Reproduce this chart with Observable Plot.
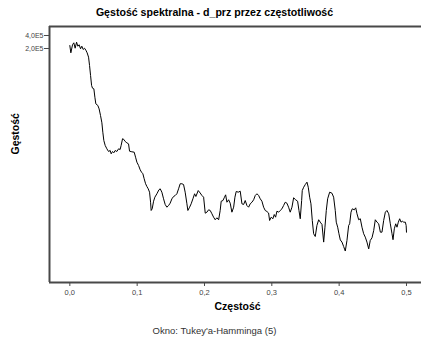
<!DOCTYPE html>
<html>
<head>
<meta charset="utf-8">
<script src="https://cdn.jsdelivr.net/npm/d3@7"></script>
<script src="https://cdn.jsdelivr.net/npm/@observablehq/plot@0.6"></script>
<style>
  html, body { margin: 0; padding: 0; background: #fff; }
  svg { display: block; }
</style>
</head>
<body>
<div id="chart"></div>
<script>
const titleText = "Gęstość spektralna - d_prz przez częstotliwość";
const xLabel = "Częstość";
const yLabel = "Gęstość";
const captionText = "Okno: Tukey'a-Hamminga (5)";

const xTicks = [0, 0.1, 0.2, 0.3, 0.4, 0.5];
const xTickLabels = ["0,0", "0,1", "0,2", "0,3", "0,4", "0,5"];
const yTicks = [2e5, 4e5];
const yTickLabels = ["2,0E5", "4,0E5"];

const xDomain = [-0.0302, 0.5223];
const yDomain = [0.766, 6.46e5];

const freq = [0.0000,0.0015,0.0040,0.0059,0.0079,0.0100,0.0119,0.0138,0.0159,0.0178,
0.0198,0.0218,0.0238,0.0257,0.0278,0.0293,0.0308,0.0323,0.0337,0.0357,
0.0372,0.0386,0.0416,0.0435,0.0456,0.0476,0.0490,0.0505,0.0525,0.0550,
0.0575,0.0599,0.0614,0.0635,0.0654,0.0673,0.0698,0.0724,0.0747,0.0762,
0.0783,0.0802,0.0822,0.0847,0.0872,0.0887,0.0921,0.0956,0.0976,0.0996,
0.1021,0.1045,0.1065,0.1085,0.1104,0.1125,0.1144,0.1164,0.1184,0.1199,
0.1208,0.1223,0.1244,0.1263,0.1293,0.1323,0.1342,0.1367,0.1392,0.1416,
0.1441,0.1467,0.1490,0.1516,0.1541,0.1565,0.1590,0.1615,0.1639,0.1664,
0.1689,0.1713,0.1739,0.1753,0.1779,0.1802,0.1828,0.1853,0.1872,0.1907,
0.1936,0.1962,0.1987,0.2011,0.2036,0.2061,0.2085,0.2110,0.2135,0.2159,
0.2184,0.2210,0.2233,0.2248,0.2274,0.2293,0.2314,0.2333,0.2358,0.2382,
0.2407,0.2433,0.2452,0.2471,0.2501,0.2531,0.2556,0.2581,0.2605,0.2630,
0.2655,0.2679,0.2705,0.2730,0.2754,0.2779,0.2804,0.2828,0.2853,0.2878,
0.2902,0.2927,0.2952,0.2967,0.2991,0.3016,0.3036,0.3056,0.3076,0.3101,
0.3125,0.3150,0.3175,0.3199,0.3224,0.3249,0.3273,0.3299,0.3324,0.3354,
0.3383,0.3403,0.3422,0.3443,0.3452,0.3473,0.3497,0.3522,0.3541,0.3562,
0.3581,0.3601,0.3621,0.3645,0.3670,0.3696,0.3719,0.3745,0.3770,0.3789,
0.3809,0.3829,0.3859,0.3893,0.3918,0.3942,0.3957,0.3978,0.3997,0.4017,
0.4042,0.4067,0.4091,0.4116,0.4141,0.4156,0.4176,0.4195,0.4225,0.4246,
0.4265,0.4290,0.4314,0.4339,0.4364,0.4388,0.4413,0.4439,0.4462,0.4488,
0.4513,0.4537,0.4562,0.4587,0.4612,0.4636,0.4661,0.4686,0.4710,0.4736,
0.4760,0.4785,0.4800,0.4819,0.4840,0.4859,0.4879,0.4899,0.4919,0.4938,
0.4959,0.4983,0.4995,0.5000];

const density = [234000,159000,244000,271000,203000,280000,226000,244000,197000,226000,
190000,203000,183000,159000,126000,80700,47400,27900,24100,23300,
14900,10500,9600,8000,5600,3810,2310,1480,1140,953,
826,871,730,826,771,871,826,953,918,1140,
1630,1570,1410,1310,1240,839,813,796,610,467,
392,311,274,252,193,148,128,113,94.4,55.3,
35.6,38.9,58.3,72.3,86.7,107,113,94.4,66.4,49.0,
42.4,46.4,52.5,66.4,75.0,79.1,86.7,113,148,148,
142,94.4,50.8,35.6,42.4,50.8,66.4,86.7,75.0,103,
90.4,79.1,72.3,30.8,32.5,36.9,35.6,29.9,24.9,21.7,
24.1,21.7,35.6,58.3,60.5,70.0,82.0,55.3,63.0,52.5,
32.5,42.4,72.3,98.0,94.4,99.5,50.8,49.0,60.5,46.4,
42.4,50.8,55.3,63.0,79.1,86.7,79.1,66.4,58.3,42.4,
35.6,33.7,31.1,20.9,24.9,22.9,28.7,24.9,34.3,32.5,
35.6,38.9,46.4,55.3,52.5,42.4,32.5,42.4,70.0,63.0,
58.3,35.6,22.9,60.5,103,123,142,161,123,72.3,
50.8,20.9,10.3,8.9,16.0,21.7,19.1,16.9,6.6,14.6,
35.6,66.4,94.4,89.4,72.3,35.6,19.1,14.6,10.3,7.4,
6.6,5.2,4.1,7.2,16.0,17.5,32.5,38.9,36.9,41.0,
29.9,21.7,22.9,14.6,10.3,8.6,6.6,4.6,7.2,8.3,
12.2,21.7,19.1,17.5,11.2,11.2,20.9,32.5,35.6,29.9,
17.5,10.3,7.5,13.4,17.5,14.6,19.1,22.9,19.1,20.1,
19.1,19.1,16.0,11.2];

const data = freq.map((f, i) => ({f, d: density[i]}));
const font = "'Liberation Sans', Arial, Helvetica, sans-serif";
const axisColor = "#484848";
const fmtX = d => xTickLabels[xTicks.findIndex(t => Math.abs(t - d) < 1e-9)];
const fmtY = d => yTickLabels[yTicks.findIndex(t => Math.abs(t - d) < 1e-3)];

const chart = Plot.plot({
  width: 421,
  height: 338,
  marginTop: 26,
  marginBottom: 56,
  marginLeft: 49,
  marginRight: 0,
  style: {fontFamily: font, background: "#fff", color: "#000"},
  x: {domain: xDomain, axis: null},
  y: {type: "log", domain: yDomain, axis: null},
  marks: [
    Plot.line(data, {x: "f", y: "d", stroke: "#000", strokeWidth: 1}),
    Plot.ruleX([xDomain[0]], {stroke: axisColor, strokeWidth: 2}),
    Plot.ruleY([yDomain[0]], {stroke: axisColor, strokeWidth: 2}),
    Plot.ruleY([yDomain[1]], {stroke: axisColor, strokeWidth: 2}),
    Plot.axisX({ticks: xTicks, tickFormat: fmtX, tickSize: 4, tickPadding: 3,
      fontSize: 7.5, fill: "#444", stroke: axisColor, label: null}),
    Plot.axisY({ticks: yTicks, tickFormat: () => "", tickSize: 5, stroke: axisColor, label: null}),
    Plot.text(yTicks, {y: d => d, text: fmtY, frameAnchor: "left", dx: -6, textAnchor: "end",
      fontSize: 7, fill: "#444"}),
    Plot.text([titleText], {frameAnchor: "top", dx: -21, dy: -18, fontSize: 10.6, fontWeight: "bold", fill: "#000"}),
    Plot.text([yLabel], {frameAnchor: "left", dx: -34, rotate: -90, fontSize: 10.5, fontWeight: "bold", fill: "#000"}),
    Plot.text([xLabel], {frameAnchor: "bottom", dx: 2, dy: 27, fontSize: 10.5, fontWeight: "bold", fill: "#000"}),
    Plot.text([captionText], {frameAnchor: "bottom", dx: -21, dy: 51, fontSize: 9.5, fill: "#333"})
  ]
});
document.getElementById("chart").appendChild(chart);
</script>
</body>
</html>
